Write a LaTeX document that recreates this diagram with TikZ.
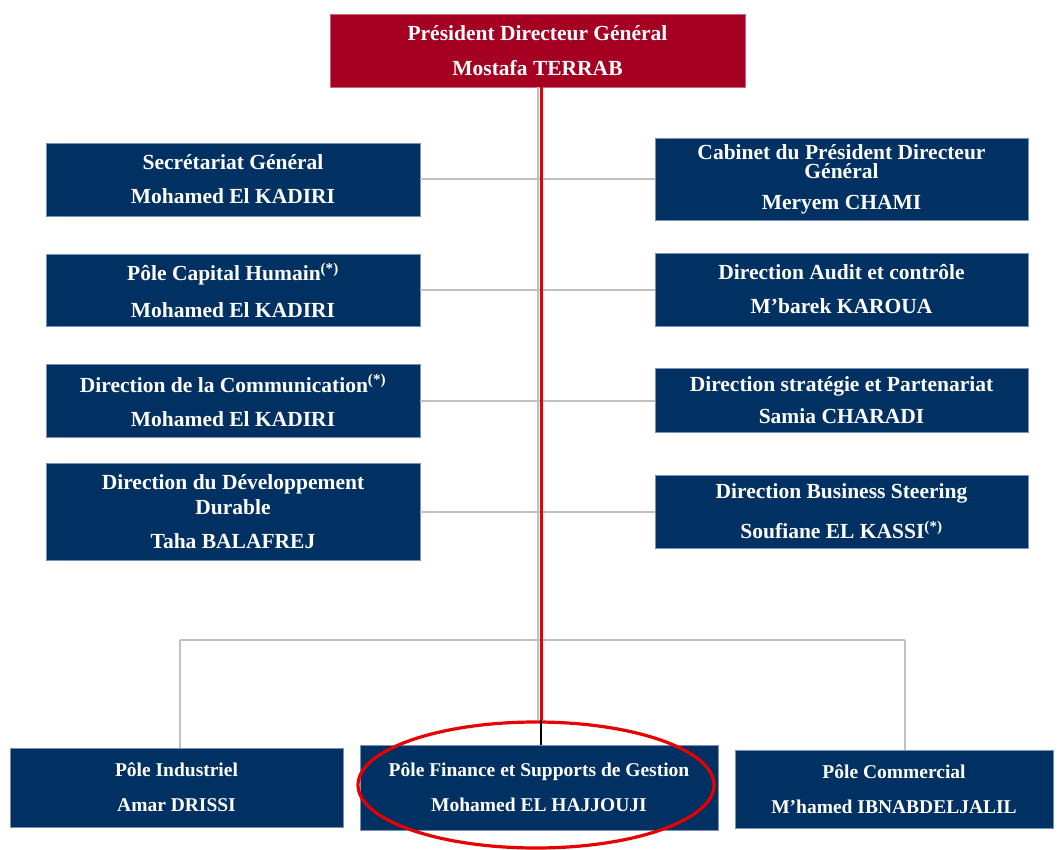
\documentclass[tikz,border=0pt]{standalone}
\usepackage{fontspec}
\setmainfont{Liberation Serif}
\usetikzlibrary{shapes.geometric}
\definecolor{navy}{RGB}{0,49,98}
\definecolor{boxedge}{RGB}{120,145,180}
\definecolor{chiefred}{RGB}{165,0,33}
\definecolor{linkgray}{RGB}{192,192,192}
\definecolor{markred}{RGB}{232,0,0}
\begin{document}
\begin{tikzpicture}[x=1pt,y=-1pt,
  box/.style={fill=navy, draw=boxedge, line width=0.8pt, text=white,
    font=\bfseries\fontsize{21.5}{18}\selectfont, align=center, inner sep=0pt},
  lowbox/.style={box, font=\bfseries\fontsize{19.5}{18}\selectfont},
  chief/.style={box, fill=chiefred, draw=chiefred!60},
  link/.style={draw=linkgray, line width=2pt},
  redline/.style={draw=markred, line width=3pt},
  blackline/.style={draw=black, line width=1.6pt}]
\useasboundingbox (0,0) rectangle (1060,850);

% head of the organisation
\node[chief, minimum width=415, minimum height=73] (pdg) at (537.5,50.5)
  {Président Directeur Général\\[17pt]Mostafa TERRAB};

% staff units, left column
\node[box, minimum width=374, minimum height=73] (sg) at (233,179.5)
  {Secrétariat Général\\[16pt]Mohamed El KADIRI};
\node[box, minimum width=374, minimum height=72] (pch) at (233,290)
  {Pôle Capital Humain\textsuperscript{(*)}\\[16pt]Mohamed El KADIRI};
\node[box, minimum width=374, minimum height=73] (dc) at (233,400.5)
  {Direction de la Communication\textsuperscript{(*)}\\[16pt]Mohamed El KADIRI};
\node[box, minimum width=374, minimum height=97] (ddd) at (233,511.5)
  {Direction du Développement\\[5pt]Durable\\[16pt]Taha BALAFREJ};

% staff units, right column
\node[box, minimum width=373, minimum height=82,
  font=\bfseries\fontsize{21.5}{19.5}\selectfont] (cab) at (841.5,179)
  {Cabinet du Président Directeur\\Général\\[11pt]Meryem CHAMI};
\node[box, minimum width=373, minimum height=73] (dac) at (841.5,289.5)
  {Direction Audit et contrôle\\[16pt]M’barek KAROUA};
\node[box, minimum width=373, minimum height=64] (dsp) at (841.5,400)
  {Direction stratégie et Partenariat\\[12pt]Samia CHARADI};
\node[box, minimum width=373, minimum height=73] (dbs) at (841.5,511.5)
  {Direction Business Steering\\[16pt]Soufiane EL KASSI\textsuperscript{(*)}};

% operational poles
\node[lowbox, minimum width=333, minimum height=79] (pi) at (176.5,787.5)
  {Pôle Industriel\\[17pt]Amar DRISSI};
\node[lowbox, minimum width=358, minimum height=85] (pf) at (539,787.5)
  {Pôle Finance et Supports de Gestion\\[17pt]Mohamed EL HAJJOUJI};
\node[lowbox, minimum width=318, minimum height=78] (pc) at (894,789)
  {Pôle Commercial\\[17pt]M’hamed IBNABDELJALIL};

% highlight ring around the finance pole
\node[draw=markred, line width=3.2pt, ellipse, minimum width=356,
  minimum height=126, inner sep=0pt] (ring) at (536,785) {};

% trunk and branch points
\coordinate (trunk) at ([xshift=0.5pt]pdg.south);
\coordinate (mark) at ([xshift=3.5pt]pdg.south);
\coordinate (barL) at (180,640);
\coordinate (barR) at (905,640);

% grey connectors
\draw[link] (trunk) -- (trunk |- ring.north);
\draw[link] (sg.east) -- (sg.east -| cab.west);
\draw[link] (pch.east) -- (pch.east -| dac.west);
\draw[link] (dc.east) -- (dc.east -| dsp.west);
\draw[link] (ddd.east) -- (ddd.east -| dbs.west);
\draw[link] (barL) -- (barR);
\draw[link] (barL) -- (barL |- pi.north);
\draw[link] (barR) -- (barR |- pc.north);

% reporting line to the finance pole
\draw[blackline] (mark) -- (mark |- pf.north);
\draw[redline] (mark) -- (mark |- ring.north);
\end{tikzpicture}
\end{document}
